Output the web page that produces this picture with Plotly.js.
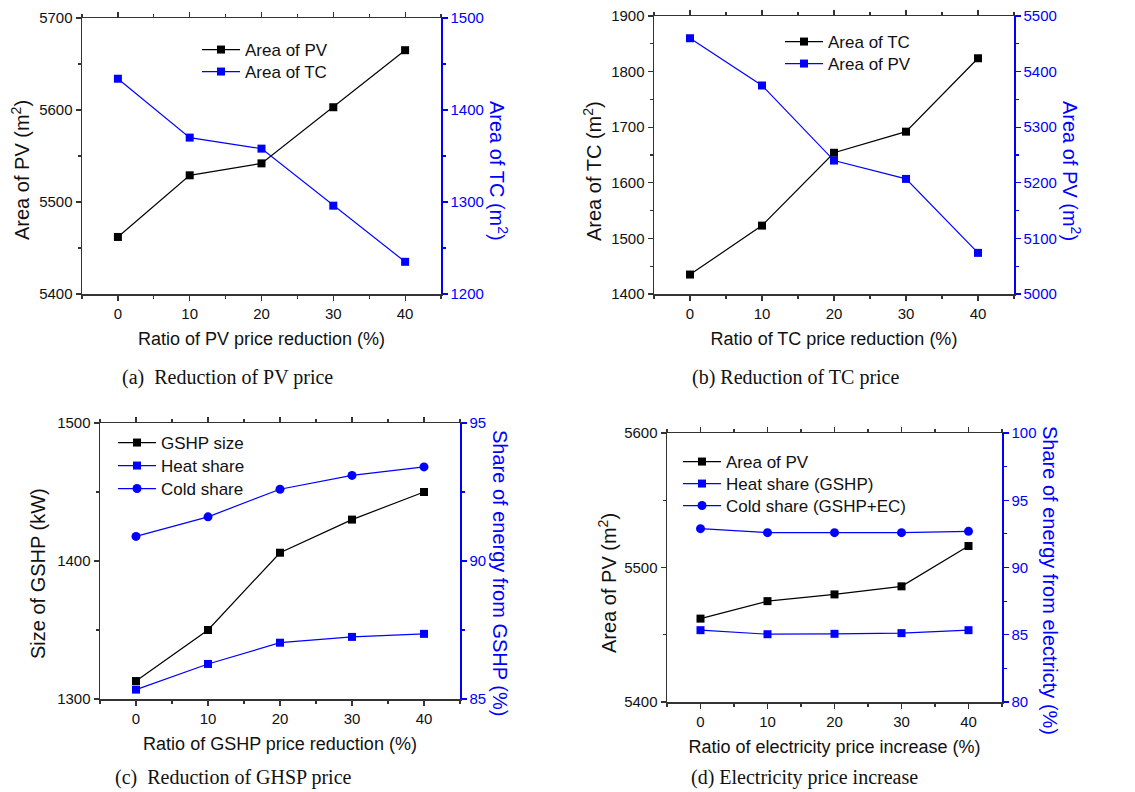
<!DOCTYPE html>
<html>
<head>
<meta charset="utf-8">
<script src="https://cdn.plot.ly/plotly-3.0.1.min.js"></script>
<style>html,body{margin:0;padding:0;background:#fff;}#chart{width:1135px;height:792px;}</style>
</head>
<body>
<div id="chart"></div>
<script>
// ---- data ----
const ratio = [0, 10, 20, 30, 40];
const xTicks = [0, 10, 20, 30, 40];

// (a) Reduction of PV price
const aPV = [5462, 5529, 5542, 5603, 5665];
const aTC = [1434, 1370, 1358, 1296, 1235];
// (b) Reduction of TC price
const bTC = [1435, 1523, 1654, 1692, 1824];
const bPV = [5460, 5375, 5240, 5207, 5074];
// (c) Reduction of GSHP price
const cSize = [1313, 1350, 1406, 1430, 1450];
const cHeat = [85.34, 86.27, 87.04, 87.25, 87.36];
const cCold = [90.89, 91.60, 92.60, 93.10, 93.41];
// (d) Electricity price increase
const dPV = [5462, 5475, 5480, 5486, 5516];
const dHeat = [85.34, 85.04, 85.07, 85.12, 85.34];
const dCold = [92.89, 92.59, 92.59, 92.59, 92.69];

const W = 1135, H = 792;
const BLUE = '#0000ff', BLACK = '#000000', AX = '#333333';
const SANS = 'Liberation Sans, Arial, sans-serif';
const SERIF = 'Liberation Serif, Times New Roman, serif';

function px(x0, x1) { return [x0 / W, x1 / W]; }
function py(top, bottom) { return [1 - bottom / H, 1 - top / H]; }

function tr(x, y, name, color, symbol, xa, ya, lg) {
  return {
    x: x, y: y, name: name, type: 'scatter', mode: 'lines+markers',
    xaxis: xa, yaxis: ya, legend: lg,
    line: { color: color, width: 1.2 },
    marker: { color: color, symbol: symbol, size: symbol === 'circle' ? 9 : 8, line: { width: 0 } }
  };
}

const data = [
  tr(ratio, aPV, 'Area of PV', BLACK, 'square', 'x', 'y', 'legend'),
  tr(ratio, aTC, 'Area of TC', BLUE, 'square', 'x', 'y2', 'legend2'),
  tr(ratio, bTC, 'Area of TC', BLACK, 'square', 'x2', 'y3', 'legend3'),
  tr(ratio, bPV, 'Area of PV', BLUE, 'square', 'x2', 'y4', 'legend4'),
  tr(ratio, cSize, 'GSHP size', BLACK, 'square', 'x3', 'y5', 'legend5'),
  tr(ratio, cHeat, 'Heat share', BLUE, 'square', 'x3', 'y6', 'legend6'),
  tr(ratio, cCold, 'Cold share', BLUE, 'circle', 'x3', 'y6', 'legend7'),
  tr(ratio, dPV, 'Area of PV', BLACK, 'square', 'x4', 'y7', 'legend8'),
  tr(ratio, dHeat, 'Heat share (GSHP)', BLUE, 'square', 'x4', 'y8', 'legend9'),
  tr(ratio, dCold, 'Cold share (GSHP+EC)', BLUE, 'circle', 'x4', 'y8', 'legend10')
];

function xax(domain, anchor, title) {
  return {
    domain: domain, anchor: anchor, range: [-5, 45], tickvals: xTicks,
    showgrid: false, zeroline: false, showline: true, linecolor: AX, linewidth: 1.5,
    mirror: 'ticks', ticks: 'outside', ticklen: 5, tickwidth: 1.2, tickcolor: AX,
    minor: { dtick: 5, tick0: 0, ticks: 'outside', ticklen: 3, tickcolor: AX, tickwidth: 1.2, showgrid: false },
    tickfont: { family: SANS, size: 15, color: '#111' },
    title: { text: title, font: { family: SANS, size: 18, color: '#111' }, standoff: 12 },
    automargin: false, fixedrange: true
  };
}
function yleft(domain, anchor, range, dtick, mdt) {
  return {
    domain: domain, anchor: anchor, range: range, dtick: dtick, tick0: range[0],
    showgrid: false, zeroline: false, showline: true, linecolor: AX, linewidth: 1.5,
    ticks: 'outside', ticklen: 5, tickwidth: 1.2, tickcolor: AX,
    minor: { dtick: mdt, ticks: 'outside', ticklen: 3, tickcolor: AX, tickwidth: 1.2, showgrid: false },
    tickfont: { family: SANS, size: 15, color: '#111' },
    automargin: false, fixedrange: true
  };
}
function yright(overlay, anchor, range, dtick, mdt) {
  return {
    overlaying: overlay, anchor: anchor, side: 'right', range: range, dtick: dtick, tick0: range[0],
    showgrid: false, zeroline: false, showline: true, linecolor: BLUE, linewidth: 1.5,
    ticks: 'outside', ticklen: 5, tickwidth: 1.2, tickcolor: BLUE,
    minor: { dtick: mdt, ticks: 'outside', ticklen: 3, tickcolor: BLUE, tickwidth: 1.2, showgrid: false },
    tickfont: { family: SANS, size: 15, color: BLUE },
    automargin: false, fixedrange: true
  };
}
// one legend per row: x = left of legend box (px), yc = row centre (px)
function leg(x, yc) {
  return {
    x: x / W, y: 1 - yc / H, xanchor: 'left', yanchor: 'middle', xref: 'paper', yref: 'paper',
    bgcolor: 'rgba(0,0,0,0)', borderwidth: 0, itemwidth: 38, tracegroupgap: 0,
    font: { family: SANS, size: 17, color: '#111' }
  };
}
function cap(text, xc, yc) {
  return { text: text, x: xc / W, y: 1 - yc / H, xref: 'paper', yref: 'paper',
    showarrow: false, xanchor: 'center', yanchor: 'middle',
    font: { family: SERIF, size: 20, color: '#111' } };
}
// vertical axis titles (left read upwards, right read downwards as in the reference)
function ytitle(text, xc, yc, right) {
  return { text: text, x: xc / W, y: 1 - yc / H, xref: 'paper', yref: 'paper',
    showarrow: false, xanchor: 'center', yanchor: 'middle', textangle: right ? 90 : -90,
    font: { family: SANS, size: 20, color: right ? BLUE : '#111' } };
}

const layout = {
  width: W, height: H, autosize: false,
  margin: { l: 0, r: 0, t: 0, b: 0, pad: 0 },
  paper_bgcolor: '#fff', plot_bgcolor: '#fff',
  showlegend: true,
  xaxis: xax(px(82, 441), 'y', 'Ratio of PV price reduction (%)'),
  yaxis: yleft(py(18, 294), 'x', [5400, 5700], 100, 50),
  yaxis2: yright('y', 'x', [1200, 1500], 100, 50),
  xaxis2: xax(px(654, 1014), 'y3', 'Ratio of TC price reduction (%)'),
  yaxis3: yleft(py(16, 294), 'x2', [1400, 1900], 100, 50),
  yaxis4: yright('y3', 'x2', [5000, 5500], 100, 50),
  xaxis3: xax(px(100, 460), 'y5', 'Ratio of GSHP price reduction (%)'),
  yaxis5: yleft(py(423, 699), 'x3', [1300, 1500], 100, 50),
  yaxis6: yright('y5', 'x3', [85, 95], 5, 2.5),
  xaxis4: xax(px(667, 1002), 'y7', 'Ratio of electricity price increase (%)'),
  yaxis7: yleft(py(433, 702), 'x4', [5400, 5600], 100, 50),
  yaxis8: yright('y7', 'x4', [80, 100], 5, 2.5),
  legend: leg(197, 50),
  legend2: leg(197, 72),
  legend3: leg(780, 42),
  legend4: leg(780, 64),
  legend5: leg(113, 443),
  legend6: leg(113, 466),
  legend7: leg(113, 489),
  legend8: leg(678, 462),
  legend9: leg(678, 484),
  legend10: leg(678, 506),
  annotations: [
    ytitle('Area of PV (m<sup>2</sup>)', 20, 170, false),
    ytitle('Area of TC (m<sup>2</sup>)', 499, 171, true),
    ytitle('Area of TC (m<sup>2</sup>)', 592, 171, false),
    ytitle('Area of PV (m<sup>2</sup>)', 1072, 171, true),
    ytitle('Size of GSHP (kW)', 38, 574, false),
    ytitle('Share of energy from GSHP (%)', 500, 573, true),
    ytitle('Area of PV (m<sup>2</sup>)', 607, 583, false),
    ytitle('Share of energy from electricty (%)', 1050, 580, true),
    cap('(a)&nbsp;&nbsp;Reduction of PV price', 227, 377),
    cap('(b) Reduction of TC price', 795, 377),
    cap('(c)&nbsp;&nbsp;Reduction of GHSP price', 234, 777),
    cap('(d) Electricity price increase', 804, 777)
  ]
};

Plotly.newPlot('chart', data, layout, { staticPlot: true, displayModeBar: false });
</script>
</body>
</html>
